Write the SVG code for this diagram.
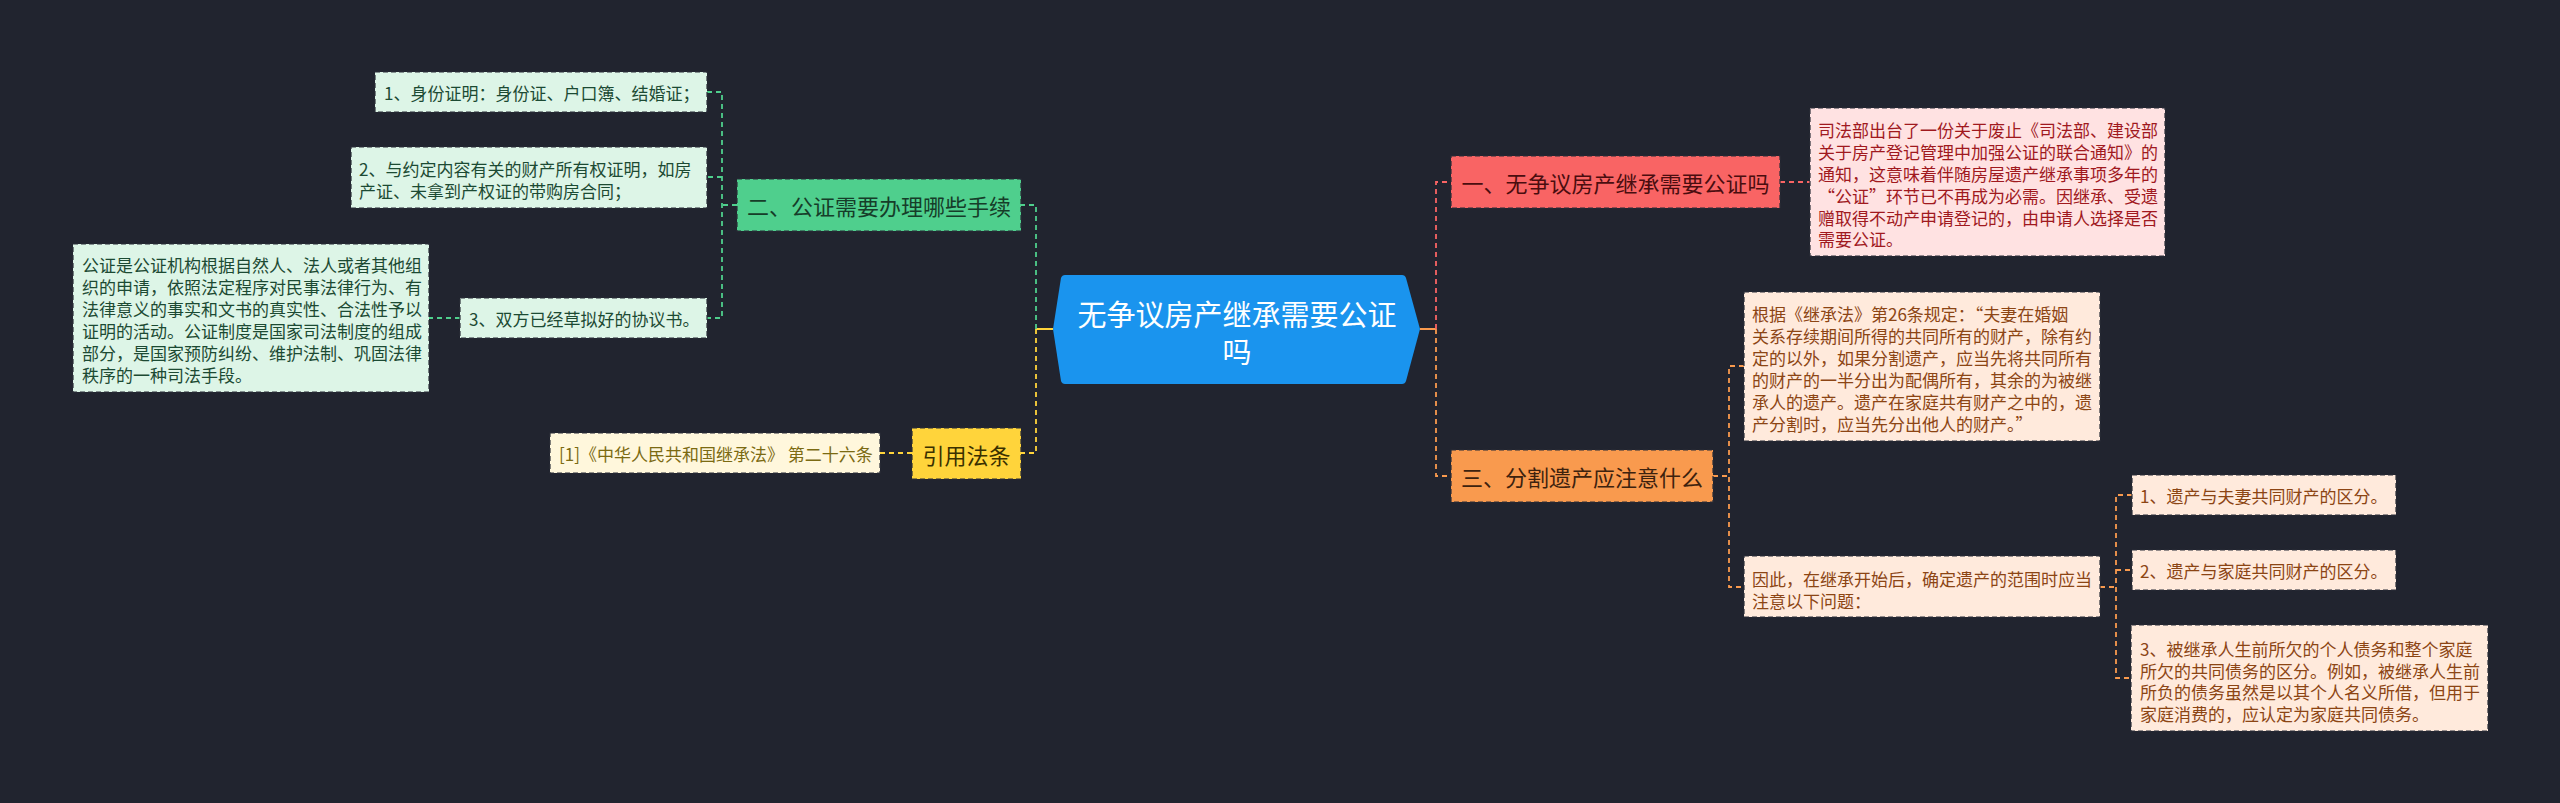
<svg xmlns="http://www.w3.org/2000/svg" width="2560" height="803" viewBox="0 0 2560 803">
<style>
text{font-family:"Noto Sans CJK SC","Noto Sans",sans-serif;dominant-baseline:central}
.d{font-size:17px}
.t{font-size:22px;text-anchor:middle}
.box{stroke:#2a2d38;stroke-width:1.2;stroke-dasharray:5 3}
.c{fill:none;stroke-width:1.8;stroke-dasharray:5 4}
.cg{stroke:#4fcf8d}.cy{stroke:#ffd43b}.cr{stroke:#f96464}.co{stroke:#f99a4e}
.gf{fill:#ddf5e7}.gt{fill:#1c4a33}
.rf{fill:#ffe2e2}.rt{fill:#a0191e}
.of{fill:#ffeadc}.ot{fill:#8c4514}
.yf{fill:#fff7dc}.yt{fill:#7b6a12}
</style>
<rect width="2560" height="803" fill="#21242f"/>
<g id="connectors">
<path d="M1053,329 H1036" fill="none" stroke="#ffd43b" stroke-width="2"/>
<path class="c cg" d="M1036,329 V205 H1021"/>
<path class="c cy" d="M1036,329 V453 H1021"/>
<path class="c cg" d="M737,205 H722"/>
<path class="c cg" d="M707,92 H722 V318 H707"/>
<path class="c cg" d="M722,177 H707"/>
<path class="c cg" d="M460,318 H429"/>
<path class="c cy" d="M912,453 H880"/>
<path d="M1420,329 H1436" fill="none" stroke="#f99a4e" stroke-width="2"/>
<path class="c cr" d="M1436,329 V182 H1451"/>
<path class="c co" d="M1436,329 V476 H1451"/>
<path class="c cr" d="M1780,182 H1810"/>
<path class="c co" d="M1713,476 H1729"/>
<path class="c co" d="M1744,366 H1729 V587 H1744"/>
<path class="c co" d="M2100,587 H2116"/>
<path class="c co" d="M2132,495 H2116 V678 H2131"/>
<path class="c co" d="M2116,570 H2132"/>
</g>
<g id="center">
<path d="M1065,275 H1402 Q1405,275 1406,278 L1420,329 L1406,381 Q1405,384 1402,384 H1065 Q1062,384 1061,381 L1053,329 L1061,278 Q1062,275 1065,275 Z" fill="#1a94ee"/>
<text x="1237" y="313" font-size="29" fill="#ffffff" text-anchor="middle">无争议房产继承需要公证</text>
<text x="1237" y="350" font-size="29" fill="#ffffff" text-anchor="middle">吗</text>
</g>
<g id="n-green">
<rect class="box" x="737" y="179" width="284" height="52" fill="#4fcf8d"/>
<text class="t" x="879" y="205" fill="#163d29">二、公证需要办理哪些手续</text>
</g>
<g id="n-g1">
<rect class="box gf" x="375" y="72" width="332" height="40"/>
<text class="d gt" x="384" y="92">1、身份证明：身份证、户口簿、结婚证；</text>
</g>
<g id="n-g2">
<rect class="box gf" x="351" y="147" width="356" height="61"/>
<text class="d gt" x="359" y="168">2、与约定内容有关的财产所有权证明，如房</text>
<text class="d gt" x="359" y="190">产证、未拿到产权证的带购房合同；</text>
</g>
<g id="n-g3">
<rect class="box gf" x="460" y="298" width="247" height="40"/>
<text class="d gt" x="469" y="318">3、双方已经草拟好的协议书。</text>
</g>
<g id="n-g4">
<rect class="box gf" x="73" y="244" width="356" height="148"/>
<text class="d gt" x="82" y="264">公证是公证机构根据自然人、法人或者其他组</text>
<text class="d gt" x="82" y="286">织的申请，依照法定程序对民事法律行为、有</text>
<text class="d gt" x="82" y="308">法律意义的事实和文书的真实性、合法性予以</text>
<text class="d gt" x="82" y="330">证明的活动。公证制度是国家司法制度的组成</text>
<text class="d gt" x="82" y="352">部分，是国家预防纠纷、维护法制、巩固法律</text>
<text class="d gt" x="82" y="374">秩序的一种司法手段。</text>
</g>
<g id="n-yellow">
<rect class="box" x="912" y="428" width="109" height="51" fill="#ffd43b"/>
<text class="t" x="966.5" y="453.5" fill="#3a3000">引用法条</text>
</g>
<g id="n-y1">
<rect class="box yf" x="550" y="433" width="330" height="40"/>
<text class="d yt" x="559" y="453">[1]《中华人民共和国继承法》 第二十六条</text>
</g>
<g id="n-red">
<rect class="box" x="1451" y="156" width="329" height="52" fill="#f96464"/>
<text class="t" x="1615.5" y="182" fill="#4a0d0f">一、无争议房产继承需要公证吗</text>
</g>
<g id="n-r1">
<rect class="box rf" x="1810" y="108" width="355" height="148"/>
<text class="d rt" x="1818" y="129">司法部出台了一份关于废止《司法部、建设部</text>
<text class="d rt" x="1818" y="151">关于房产登记管理中加强公证的联合通知》的</text>
<text class="d rt" x="1818" y="173">通知，这意味着伴随房屋遗产继承事项多年的</text>
<text class="d rt" x="1818" y="195">“公证”环节已不再成为必需。因继承、受遗</text>
<text class="d rt" x="1818" y="217">赠取得不动产申请登记的，由申请人选择是否</text>
<text class="d rt" x="1818" y="238">需要公证。</text>
</g>
<g id="n-orange">
<rect class="box" x="1451" y="450" width="262" height="52" fill="#f99a4e"/>
<text class="t" x="1582" y="476" fill="#3d220e">三、分割遗产应注意什么</text>
</g>
<g id="n-o1">
<rect class="box of" x="1744" y="292" width="356" height="149"/>
<text class="d ot" x="1752" y="313">根据《继承法》第26条规定：“夫妻在婚姻</text>
<text class="d ot" x="1752" y="335">关系存续期间所得的共同所有的财产，除有约</text>
<text class="d ot" x="1752" y="357">定的以外，如果分割遗产，应当先将共同所有</text>
<text class="d ot" x="1752" y="379">的财产的一半分出为配偶所有，其余的为被继</text>
<text class="d ot" x="1752" y="401">承人的遗产。遗产在家庭共有财产之中的，遗</text>
<text class="d ot" x="1752" y="423">产分割时，应当先分出他人的财产。”</text>
</g>
<g id="n-o2">
<rect class="box of" x="1744" y="556" width="356" height="61"/>
<text class="d ot" x="1752" y="578">因此，在继承开始后，确定遗产的范围时应当</text>
<text class="d ot" x="1752" y="600">注意以下问题：</text>
</g>
<g id="n-o3">
<rect class="box of" x="2132" y="475" width="264" height="40"/>
<text class="d ot" x="2140" y="495">1、遗产与夫妻共同财产的区分。</text>
</g>
<g id="n-o4">
<rect class="box of" x="2132" y="550" width="264" height="40"/>
<text class="d ot" x="2140" y="570">2、遗产与家庭共同财产的区分。</text>
</g>
<g id="n-o5">
<rect class="box of" x="2131" y="625" width="357" height="106"/>
<text class="d ot" x="2140" y="648">3、被继承人生前所欠的个人债务和整个家庭</text>
<text class="d ot" x="2140" y="670">所欠的共同债务的区分。例如，被继承人生前</text>
<text class="d ot" x="2140" y="691">所负的债务虽然是以其个人名义所借，但用于</text>
<text class="d ot" x="2140" y="713">家庭消费的，应认定为家庭共同债务。</text>
</g>
</svg>
